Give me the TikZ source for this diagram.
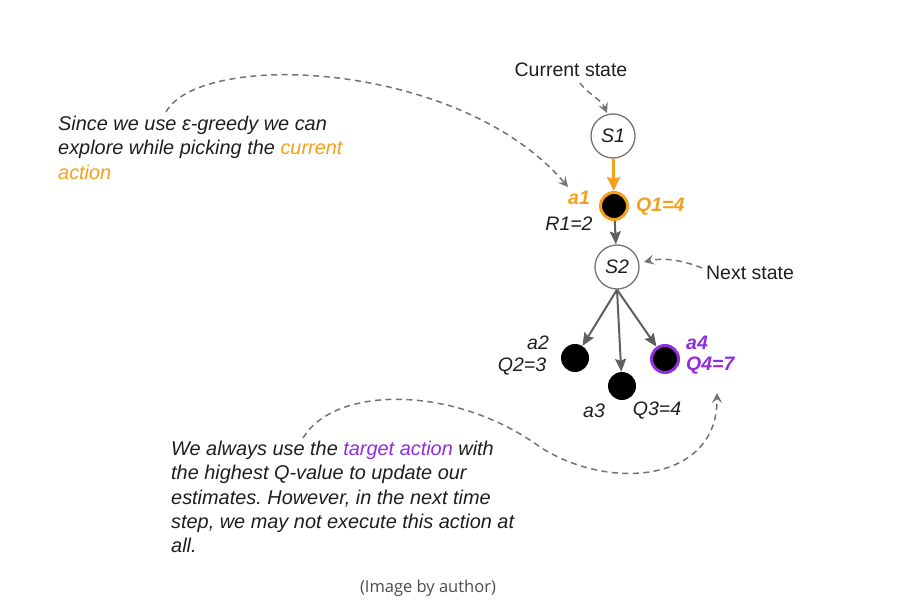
\documentclass[tikz,border=0pt]{standalone}
\usepackage{fontspec}
\setmainfont{Liberation Sans}
\newfontfamily\capfont{Open Sans}
\usetikzlibrary{arrows.meta}
\frenchspacing
\definecolor{orng}{RGB}{244,160,30}
\definecolor{purp}{RGB}{146,44,226}
\definecolor{dgray}{RGB}{95,95,95}
\definecolor{cgray}{RGB}{115,115,115}
\definecolor{txt}{RGB}{30,30,30}
\definecolor{capgray}{RGB}{75,75,75}
\begin{document}
\begin{tikzpicture}[x=1pt,y=-1pt,
  lbl/.style={font=\fontsize{19.5}{24}\selectfont\itshape, text=txt, inner sep=0pt},
  lblb/.style={font=\fontsize{19.5}{24}\selectfont\bfseries\itshape, inner sep=0pt},
  plainlbl/.style={font=\fontsize{19.5}{24}\selectfont, text=txt, inner sep=0pt},
  statec/.style={circle, draw=cgray, line width=1.3pt, fill=white, minimum size=44pt, inner sep=0pt, text=txt, font=\fontsize{19.5}{24}\selectfont\itshape},
  actdot/.style={circle, fill=black, minimum size=28pt, inner sep=0pt},
  ringdot/.style={circle, fill=black, line width=3pt, minimum size=27pt, inner sep=0pt},
  note/.style={font=\fontsize{19.9}{24.3}\selectfont\itshape, text=txt, inner sep=0pt, align=left, anchor=north west},
  dasharrow/.style={draw=cgray, line width=1.5pt, dash pattern=on 6pt off 4.5pt, -{Stealth[length=10pt,width=10pt,inset=4pt]}},
  solidarrow/.style={draw=dgray, line width=2pt, -{Stealth[length=13pt,width=11pt,inset=2pt]}},
  choicearrow/.style={draw=orng, line width=2.8pt, -{Stealth[length=14pt,width=13pt,inset=2pt]}},
]
\path[use as bounding box] (0,0) rectangle (899,601);

% state and action nodes
\node[statec] (s1) at (613,136) {S1};
\node[ringdot, draw=orng] (a1) at (614,206) {};
\node[statec] (s2) at (617,267) {S2};
\node[actdot] (a2) at (575,358) {};
\node[actdot] (a3) at (622,386) {};
\node[ringdot, draw=purp] (a4) at (665,359) {};

% arrows
\draw[choicearrow] (s1) -- (a1);
\draw[solidarrow] (a1) -- (s2);
\draw[solidarrow] (s2.south) -- (a2);
\draw[solidarrow] (s2.south) -- (a3);
\draw[solidarrow] (s2.south) -- (a4);

% labels
\node[lblb, text=orng] (la1) at (579,198) {a1};
\node[lblb, text=orng, anchor=west] (lq1) at (636,207) {Q1=4};
\node[lbl] (lr1) at (569,224) {R1=2};
\node[lbl] (la2) at (538,343) {a2};
\node[lbl] (lq2) at (522,367) {Q2=3};
\node[lbl] (la3) at (594,411) {a3};
\node[lbl] (lq3) at (657,411) {Q3=4};
\node[lblb, text=purp] (la4) at (697,343) {a4};
\node[lblb, text=purp, anchor=west] (lq4) at (686,366) {Q4=7};

\node[plainlbl] (cur) at (571,70) {Current state};
\node[plainlbl] (nxt) at (750,273) {Next state};

% notes
\node[note] (n1) at (58,116) {Since we use ε-greedy we can\\explore while picking the \textcolor{orng}{current}\\\textcolor{orng}{action}};
\node[note] (n2) at (171,441) {We always use the \textcolor{purp}{target action} with\\the highest Q-value to update our\\estimates. However, in the next time\\step, we may not execute this action at\\all.};

\node[font=\capfont\fontsize{16.5}{20}\selectfont, text=capgray, inner sep=0pt] (cap) at (428,588) {(Image by author)};

% dashed pointers
\coordinate (c1a) at (580,83);
\coordinate (c1b) at (607,113);
\draw[dasharrow] (c1a) .. controls (590,96) and (601,99) .. (c1b);
\coordinate (c2a) at (702,268);
\coordinate (c2b) at (644,262);
\draw[dasharrow] (c2a) .. controls (685,261) and (665,257) .. (c2b);
\coordinate (c3a) at (166,112);
\coordinate (c3b) at (568,187);
\draw[dasharrow] (c3a) .. controls (200,50) and (460,60) .. (c3b);
\coordinate (c4a) at (303,438);
\coordinate (c4m) at (540,447);
\coordinate (c4b) at (717,393);
\draw[dasharrow] (c4a) .. controls (335,385) and (455,385) .. (c4m) .. controls (610,492) and (718,482) .. (c4b);
\end{tikzpicture}
\end{document}
